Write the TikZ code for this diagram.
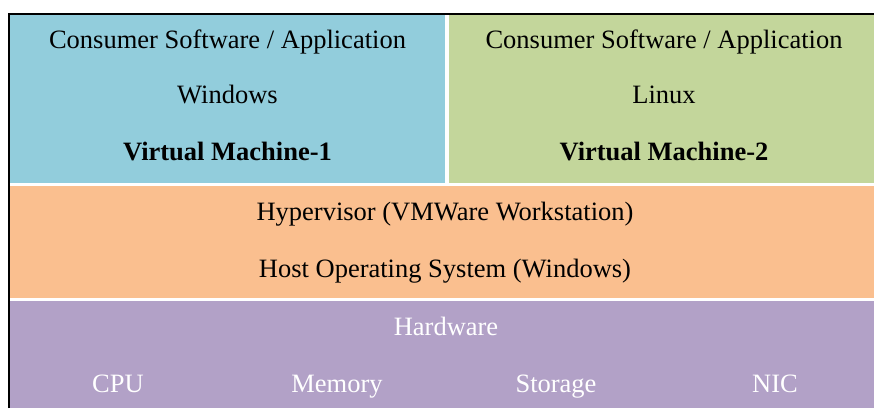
\documentclass[tikz,border=0pt]{standalone}
\usepackage{fontspec}
\setmainfont{Liberation Serif}
\usepackage{tikz}
\definecolor{vmblue}{HTML}{92CDDC}
\definecolor{vmgreen}{HTML}{C3D69B}
\definecolor{hostorange}{HTML}{FABF8F}
\definecolor{hwpurple}{HTML}{B2A1C7}
\begin{document}
\begin{tikzpicture}
[x=1pt, y=-1pt,
  layerbox/.style={rectangle, inner sep=0pt, anchor=north west},
  layertext/.style={anchor=base, inner sep=0pt, font=\fontsize{26.5}{30}\selectfont}]
  \useasboundingbox (0,0) rectangle (874,408);
  % layers
  \node[layerbox, fill=vmblue, minimum width=435pt, minimum height=168pt] (VMOne) at (10,15) {};
  \node[layerbox, fill=vmgreen, minimum width=425pt, minimum height=168pt] (VMTwo) at (449,15) {};
  \node[layerbox, fill=hostorange, minimum width=864pt, minimum height=112pt] (Host) at (10,186) {};
  \node[layerbox, fill=hwpurple, minimum width=864pt, minimum height=107pt] (Hardware) at (10,301) {};
  \draw[line width=2pt] (9,408) |- (874,14);
  % virtual machines
  \node[layertext] (AppOne) at (227.5,48) {Consumer Software / Application};
  \node[layertext] (OSOne) at (227.5,103) {Windows};
  \node[layertext] (NameOne) at (227.5,160) {\textbf{Virtual Machine-1}};
  \node[layertext] (AppTwo) at (664,48) {Consumer Software / Application};
  \node[layertext] (OSTwo) at (664,103) {Linux};
  \node[layertext] (NameTwo) at (664,160) {\textbf{Virtual Machine-2}};
  % host
  \node[layertext] (HypervisorText) at (445,220) {Hypervisor (VMWare Workstation)};
  \node[layertext] (HostText) at (445,277) {Host Operating System (Windows)};
  % hardware
  \node[layertext, text=white] (HardwareText) at (446,335) {Hardware};
  \node[layertext, text=white] (CPU) at (118,392) {CPU};
  \node[layertext, text=white] (Memory) at (337,392) {Memory};
  \node[layertext, text=white] (Storage) at (556,392) {Storage};
  \node[layertext, text=white] (NIC) at (775,392) {NIC};
\end{tikzpicture}
\end{document}
